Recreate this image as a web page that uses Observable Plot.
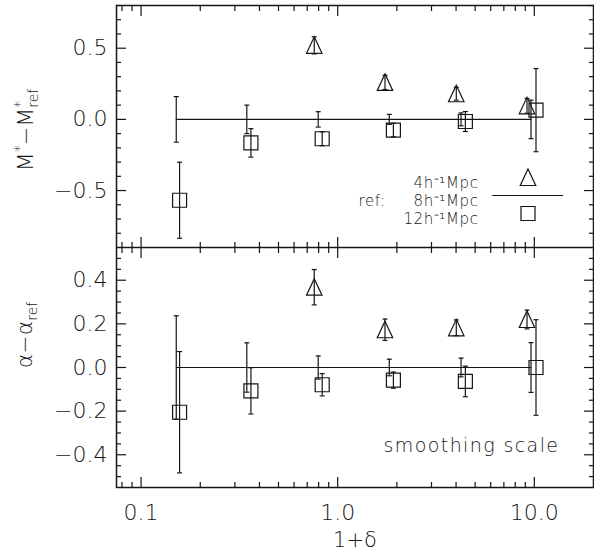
<!DOCTYPE html>
<html>
<head>
<meta charset="utf-8">
<script src="https://cdn.jsdelivr.net/npm/d3@7"></script>
<script src="https://cdn.jsdelivr.net/npm/@observablehq/plot@0.6"></script>
<style>
  body { margin: 0; background: #fff; }
  #chart { position: relative; width: 594px; height: 556px; background: #fff; }
  #chart svg { position: absolute; left: 0; }
</style>
</head>
<body>
<div id="chart"></div>
<script>
// ---------- data ----------
const xRef = [0.151, 0.345, 0.796, 1.83, 4.24, 9.62];          // 8 h^-1 Mpc (reference)
const refM = [0, 0, 0, 0, 0, 0];
const refErrM = [0.16, 0.10, 0.054, 0.035, 0.045, 0.135];
const refA = [0, 0, 0, 0, 0, 0];
const refErrA = [0.237, 0.113, 0.053, 0.038, 0.043, 0.114];

const xTri = [0.76, 1.74, 4.01, 9.18];                           // 4 h^-1 Mpc
const triM = [0.52, 0.26, 0.18, 0.095];
const triErrM = [0.06, 0.05, 0.045, 0.052];
const triA = [0.368, 0.173, 0.182, 0.220];
const triErrA = [0.081, 0.049, 0.036, 0.043];

const xSq = [0.157, 0.362, 0.834, 1.92, 4.46, 10.2];             // 12 h^-1 Mpc
const sqM = [-0.568, -0.165, -0.136, -0.075, -0.015, 0.065];
const sqErrM = [0.267, 0.10, 0.049, 0.047, 0.07, 0.292];
const sqA = [-0.205, -0.107, -0.079, -0.058, -0.064, 0.0];
const sqErrA = [0.278, 0.106, 0.051, 0.037, 0.07, 0.219];

const xMajor = [0.1, 1, 10];
const xMajorLabels = ["0.1", "1.0", "10.0"];
const xMinor = [0.08, 0.09, 0.2, 0.3, 0.4, 0.5, 0.6, 0.7, 0.8, 0.9, 2, 3, 4, 5, 6, 7, 8, 9];
const mMajor = [-0.5, 0, 0.5];
const mMinor = [-0.8, -0.7, -0.6, -0.4, -0.3, -0.2, -0.1, 0.1, 0.2, 0.3, 0.4, 0.6, 0.7, 0.8];
const aMajor = [-0.4, -0.2, 0, 0.2, 0.4];
const aMinor = [-0.5, -0.45, -0.35, -0.3, -0.25, -0.15, -0.1, -0.05, 0.05, 0.1, 0.15, 0.25, 0.3, 0.35, 0.45, 0.5];

const legendLabels = ["4h\u207B\u00B9Mpc", "8h\u207B\u00B9Mpc", "12h\u207B\u00B9Mpc"];
const refPrefix = "ref:";
const noteText = "smoothing scale";
const xTitle = "1+\u03B4";

// ---------- style ----------
const INK = "#151515";
const FONT = "font-family:'DejaVu Sans',sans-serif;font-weight:200;color:#151515;background:#fff;";
const LW = 1.2;

const triSym = {draw(c) { c.moveTo(0, -8.5); c.lineTo(7.75, 8); c.lineTo(-7.75, 8); c.closePath(); }};
const sqSym = {draw(c) { c.moveTo(-7, -7); c.lineTo(7, -7); c.lineTo(7, 7); c.lineTo(-7, 7); c.closePath(); }};
const capSym = {draw(c) { c.moveTo(-2.5, 0); c.lineTo(2.5, 0); }};
const legLineSym = {draw(c) { c.moveTo(-35.5, 0); c.lineTo(35.5, 0); }};

const fmtY = d => (d < 0 ? "\u2212" : "") + Math.abs(d).toFixed(1);

function errorBars(xs, ys, es) {
  const idx = d3.range(xs.length);
  return [
    Plot.ruleX(idx, {x: i => xs[i], y1: i => ys[i] - es[i], y2: i => ys[i] + es[i], stroke: INK, strokeWidth: LW}),
    Plot.dot(idx, {x: i => xs[i], y: i => ys[i] + es[i], symbol: capSym, fill: "none", stroke: INK, strokeWidth: LW}),
    Plot.dot(idx, {x: i => xs[i], y: i => ys[i] - es[i], symbol: capSym, fill: "none", stroke: INK, strokeWidth: LW})
  ];
}
function symbols(xs, ys, sym) {
  return Plot.dot(d3.range(xs.length), {x: i => xs[i], y: i => ys[i], symbol: sym, fill: "none", stroke: INK, strokeWidth: LW});
}
function frameTicks(yMajor, yMinor) {
  const t = {stroke: INK, strokeWidth: LW, fill: "none", label: null};
  return [
    Plot.axisX(xMajor, {anchor: "bottom", tickSize: 10, dy: -10, ...t}),
    Plot.axisX(xMinor, {anchor: "bottom", tickSize: 5, dy: -5, ...t}),
    Plot.axisX(xMajor, {anchor: "top", tickSize: 10, dy: 10, ...t}),
    Plot.axisX(xMinor, {anchor: "top", tickSize: 5, dy: 5, ...t}),
    Plot.axisY(yMajor, {anchor: "left", tickSize: 10, dx: 10, ...t}),
    Plot.axisY(yMinor, {anchor: "left", tickSize: 5, dx: 5, ...t}),
    Plot.axisY(yMajor, {anchor: "right", tickSize: 10, dx: -10, ...t}),
    Plot.axisY(yMinor, {anchor: "right", tickSize: 5, dx: -5, ...t})
  ];
}
function yLabels(yMajor) {
  return Plot.axisY(yMajor, {anchor: "left", tickSize: 0, tickPadding: 9, tickFormat: fmtY,
    fontSize: 22, fill: INK, label: null});
}
const LEG = {frameAnchor: "top-right", fontSize: 15, fill: INK};

// ---------- top panel: M* - M*ref ----------
const topSvg = Plot.plot({
  width: 594, height: 248,
  marginLeft: 116, marginRight: 1, marginTop: 5, marginBottom: 1,
  style: FONT,
  x: {type: "log", domain: [0.075, 20]},
  y: {domain: [-0.9, 0.8]},
  marks: [
    ...frameTicks(mMajor, mMinor),
    yLabels(mMajor),
    Plot.line(d3.range(xRef.length), {x: i => xRef[i], y: i => refM[i], stroke: INK, strokeWidth: LW}),
    ...errorBars(xRef, refM, refErrM),
    ...errorBars(xTri, triM, triErrM),
    symbols(xTri, triM, triSym),
    ...errorBars(xSq, sqM, sqErrM),
    symbols(xSq, sqM, sqSym),
    // legend
    Plot.text([legendLabels[0]], {text: d => d, ...LEG, textAnchor: "end", dx: -115, dy: 172}),
    Plot.text([legendLabels[1]], {text: d => d, ...LEG, textAnchor: "end", dx: -115, dy: 190}),
    Plot.text([legendLabels[2]], {text: d => d, ...LEG, textAnchor: "end", dx: -115, dy: 208}),
    Plot.text([refPrefix], {text: d => d, ...LEG, textAnchor: "start", dx: -235, dy: 190}),
    Plot.dot([0], {frameAnchor: "top-right", dx: -65.5, dy: 172, symbol: triSym, fill: "none", stroke: INK, strokeWidth: LW}),
    Plot.dot([0], {frameAnchor: "top-right", dx: -65.8, dy: 190, symbol: legLineSym, fill: "none", stroke: INK, strokeWidth: LW}),
    Plot.dot([0], {frameAnchor: "top-right", dx: -65.5, dy: 208, symbol: sqSym, fill: "none", stroke: INK, strokeWidth: LW}),
    Plot.frame({stroke: INK, strokeWidth: 1.5})
  ]
});
topSvg.style.top = "0px";

// ---------- bottom panel: alpha - alpha_ref ----------
const botSvg = Plot.plot({
  width: 594, height: 309,
  marginLeft: 116, marginRight: 1, marginTop: 0, marginBottom: 69,
  style: FONT,
  x: {type: "log", domain: [0.075, 20]},
  y: {domain: [-0.55, 0.55]},
  marks: [
    ...frameTicks(aMajor, aMinor),
    yLabels(aMajor),
    Plot.axisX(xMajor, {anchor: "bottom", tickSize: 0, tickPadding: 17,
      tickFormat: d => xMajorLabels[xMajor.indexOf(d)], fontSize: 22, fill: INK, label: null}),
    Plot.text([xTitle], {text: d => d, frameAnchor: "bottom", dy: 59, fontSize: 21, fill: INK}),
    Plot.line(d3.range(xRef.length), {x: i => xRef[i], y: i => refA[i], stroke: INK, strokeWidth: LW}),
    ...errorBars(xRef, refA, refErrA),
    ...errorBars(xTri, triA, triErrA),
    symbols(xTri, triA, triSym),
    ...errorBars(xSq, sqA, sqErrA),
    symbols(xSq, sqA, sqSym),
    Plot.text([noteText], {text: d => d, frameAnchor: "bottom-right", textAnchor: "middle", dx: -122, dy: -36,
      fontSize: 19, fill: INK}),
    Plot.frame({stroke: INK, strokeWidth: 1.5})
  ]
});
botSvg.style.top = "247px";

const chart = document.getElementById("chart");
chart.appendChild(topSvg);
chart.appendChild(botSvg);

// letter spacing for the wide original lettering
d3.select(botSvg).selectAll("text").filter(function() { return this.textContent === noteText; })
  .attr("letter-spacing", "1.4px");
d3.select(topSvg).selectAll("text").filter(function() { return legendLabels.includes(this.textContent) || this.textContent === refPrefix; })
  .attr("letter-spacing", "0.6px");

// ---------- y-axis titles (real text with sub/superscripts) ----------
{
  const t = d3.select(topSvg).append("text")
    .attr("transform", "translate(33,130) rotate(-90)")
    .attr("text-anchor", "middle").attr("fill", INK).attr("font-size", 22);
  t.append("tspan").text("M");
  t.append("tspan").attr("font-size", 14).attr("dy", -9).text("*");
  t.append("tspan").attr("font-size", 22).attr("dy", 9).text("\u2212M");
  t.append("tspan").attr("font-size", 14).attr("dy", -9).text("*");
  t.append("tspan").attr("font-size", 14).attr("dx", -7).attr("dy", 14).text("ref");
}
{
  const t = d3.select(botSvg).append("text")
    .attr("transform", "translate(32,88) rotate(-90)")
    .attr("text-anchor", "middle").attr("fill", INK).attr("font-size", 22);
  t.append("tspan").text("\u03B1\u2212\u03B1");
  t.append("tspan").attr("font-size", 14).attr("dy", 5).text("ref");
}
</script>
</body>
</html>
